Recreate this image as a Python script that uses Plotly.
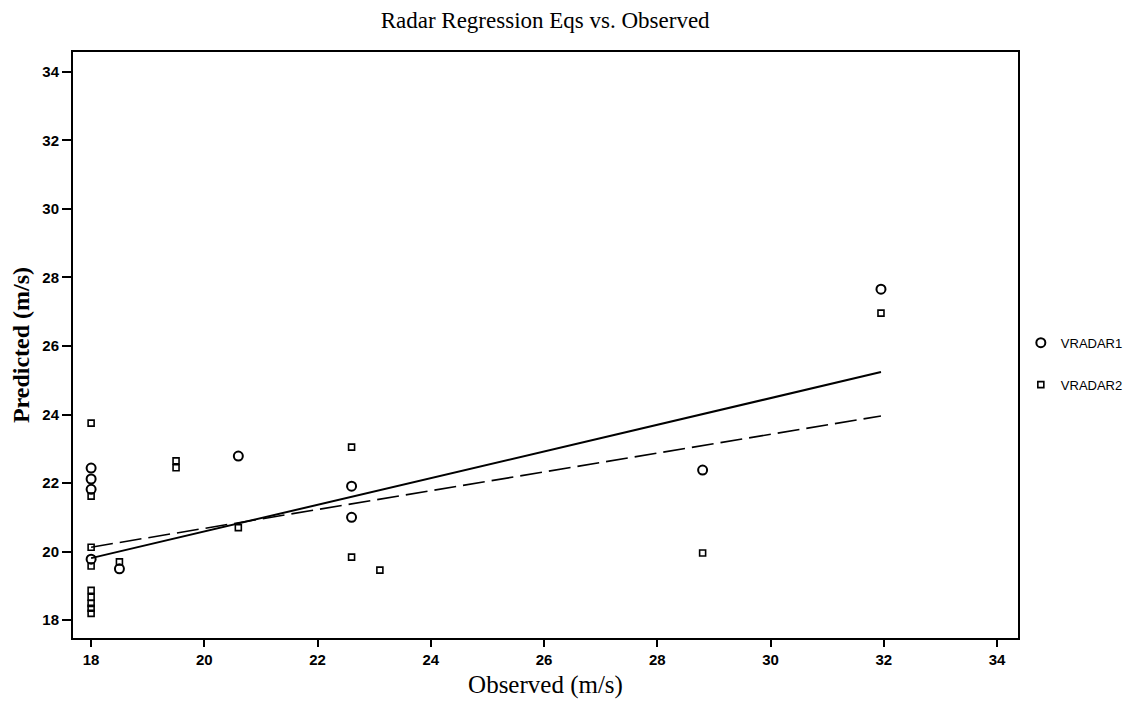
import plotly.graph_objects as go

# VRADAR1 (circles)
v1_x = [18, 18, 18, 18, 18.5, 20.6, 22.6, 22.6, 28.8, 31.95]
v1_y = [22.44, 22.12, 21.82, 19.78, 19.5, 22.79, 21.91, 21.0, 22.38, 27.66]

# VRADAR2 (squares)
v2_x = [18, 18, 18, 18, 18, 18, 18, 18, 18, 18.5, 19.5, 19.5, 20.6, 22.6, 22.6, 23.1, 28.8, 31.95]
v2_y = [23.75, 21.62, 20.13, 19.58, 18.87, 18.67, 18.49, 18.35, 18.2, 19.7, 22.65, 22.45, 20.7,
        23.05, 19.84, 19.46, 19.96, 26.96]

# regression fit lines (endpoints)
fit1_x = [18, 31.95]
fit1_y = [19.81, 25.24]
fit2_x = [18, 31.95]
fit2_y = [20.13, 23.96]

x_ticks = [18, 20, 22, 24, 26, 28, 30, 32, 34]
y_ticks = [18, 20, 22, 24, 26, 28, 30, 32, 34]

fig = go.Figure()

fig.add_trace(go.Scatter(x=fit1_x, y=fit1_y, mode="lines", showlegend=False,
                         line=dict(color="black", width=2)))
fig.add_trace(go.Scatter(x=fit2_x, y=fit2_y, mode="lines", showlegend=False,
                         line=dict(color="black", width=1.6, dash="22px,7px")))

fig.add_trace(go.Scatter(x=v1_x, y=v1_y, mode="markers", name="VRADAR1",
                         legendgroup="a",
                         marker=dict(symbol="circle-open", size=9, color="black",
                                     line=dict(width=2, color="black"))))
fig.add_trace(go.Scatter(x=v2_x, y=v2_y, mode="markers", name="VRADAR2",
                         legendgroup="b",
                         marker=dict(symbol="square-open", size=6, color="black",
                                     line=dict(width=1.6, color="black"))))

fig.update_layout(
    width=1131, height=709,
    margin=dict(l=73, r=113, t=52, b=71, autoexpand=False),
    paper_bgcolor="white", plot_bgcolor="white",
    title=dict(text="Radar Regression Eqs vs. Observed", x=0.482, xanchor="center",
               y=0.972, yanchor="middle",
               font=dict(family="Liberation Serif", size=23, color="black")),
    showlegend=True,
    legend=dict(x=1.003, xanchor="left", y=0.468, yanchor="middle",
                font=dict(family="Liberation Sans", size=13, color="black"),
                tracegroupgap=22, traceorder="grouped", itemwidth=30,
                bgcolor="rgba(0,0,0,0)"),
    xaxis=dict(range=[17.68, 34.37], tickvals=x_ticks, ticktext=[str(v) for v in x_ticks],
               showgrid=False, zeroline=False, showline=True, mirror=True,
               linecolor="black", linewidth=2, ticks="outside", ticklen=7, tickwidth=2,
               tickcolor="black",
               tickfont=dict(family="Liberation Sans", size=15, color="black", weight="bold"),
               title=dict(text="Observed (m/s)", standoff=8,
                          font=dict(family="Liberation Serif", size=25, color="black"))),
    yaxis=dict(range=[17.48, 34.58], tickvals=y_ticks, ticktext=[str(v) for v in y_ticks],
               showgrid=False, zeroline=False, showline=True, mirror=True,
               linecolor="black", linewidth=2, ticks="outside", ticklen=9, tickwidth=1.5,
               tickcolor="black",
               tickfont=dict(family="Liberation Sans", size=15, color="black", weight="bold"),
               title=dict(text="Predicted (m/s)", standoff=6,
                          font=dict(family="Liberation Serif", size=24, color="black",
                                    weight="bold"))),
)

fig.write_html("out.html")
